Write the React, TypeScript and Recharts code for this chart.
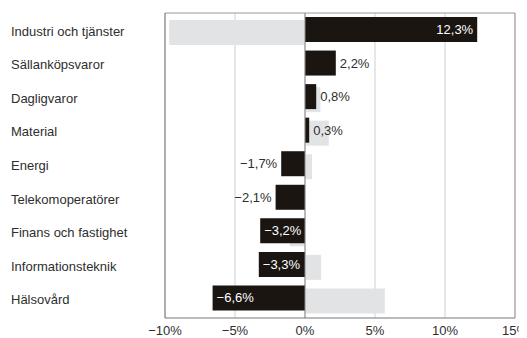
import React from 'react';
import { BarChart, Bar, XAxis, YAxis, CartesianGrid, ReferenceLine, LabelList } from 'recharts';

const categories = [
  'Industri och tjänster',
  'Sällanköpsvaror',
  'Dagligvaror',
  'Material',
  'Energi',
  'Telekomoperatörer',
  'Finans och fastighet',
  'Informationsteknik',
  'Hälsovård',
];

// black bars (labelled)
const sectorReturn = [12.3, 2.2, 0.8, 0.3, -1.7, -2.1, -3.2, -3.3, -6.6];
// light grey bars behind
const compareReturn = [-9.7, 0, 1.1, 1.7, 0.5, 0, -1.1, 1.15, 5.7];

const xTicks = [-10, -5, 0, 5, 10, 15];

const data = categories.map((name, i) => ({
  name,
  sector: sectorReturn[i],
  compare: compareReturn[i],
}));

const FONT = '"Liberation Sans", Arial, sans-serif';
const TEXT = '#2e2e2e';

const fmtPct = (v: number, decimals = 1) =>
  (v < 0 ? '\u2212' : '') + Math.abs(v).toFixed(decimals).replace('.', ',') + '%';

// inside the bar end when the bar is long enough, otherwise just outside it
function ValueLabel(props: any) {
  const { x, y, width, height, value } = props;
  const left = Math.min(x, x + width);
  const right = Math.max(x, x + width);
  const cy = y + height / 2;
  const inside = Math.abs(value) >= 3;
  let tx: number;
  let anchor: 'start' | 'end';
  if (value >= 0) {
    tx = inside ? right - 4 : right + 4;
    anchor = inside ? 'end' : 'start';
  } else {
    tx = inside ? left + 4 : left - 4;
    anchor = inside ? 'start' : 'end';
  }
  return (
    <text x={tx} y={cy} textAnchor={anchor} dominantBaseline="central" fill={inside ? '#ffffff' : TEXT} fontSize={13} fontFamily={FONT}>
      {fmtPct(value)}
    </text>
  );
}

function CategoryTick(props: any) {
  const { y, payload } = props;
  return (
    <text x={11} y={y + 1.5} textAnchor="start" dominantBaseline="central" fill={TEXT} fontSize={13} fontFamily={FONT}>
      {payload.value}
    </text>
  );
}

export default function App() {
  return (
    <div style={{ marginLeft: -8, marginTop: -8, width: 527, height: 338, background: '#fff' }}>
      <BarChart width={527} height={338} data={data} layout="vertical" margin={{ top: 13, right: 12, bottom: 0, left: 0 }}>
        <CartesianGrid yAxisId="b" horizontal={false} stroke="#cfcfcf" />
        <CartesianGrid yAxisId="b" vertical={false} stroke="#9a9a9a" horizontalCoordinatesGenerator={({ offset }: any) => [offset.top]} />
        <XAxis
          type="number"
          domain={[-10, 15]}
          ticks={xTicks}
          tickFormatter={(v: number) => fmtPct(v, 0)}
          tick={{ fontSize: 13, fill: TEXT, fontFamily: FONT }}
          tickLine={false}
          axisLine={{ stroke: '#777' }}
          height={20}
        />
        <YAxis
          yAxisId="b"
          type="category"
          dataKey="name"
          width={165}
          padding={{ top: 0, bottom: 3 }}
          tick={<CategoryTick />}
          tickLine={false}
          axisLine={false}
        />
        <YAxis yAxisId="a" type="category" dataKey="name" hide width={0} padding={{ top: 3, bottom: 0 }} />
        <Bar dataKey="compare" yAxisId="a" fill="#e2e3e5" barSize={25} isAnimationActive={false} />
        <Bar dataKey="sector" yAxisId="b" fill="#1a1511" barSize={25} isAnimationActive={false}>
          <LabelList dataKey="sector" content={<ValueLabel />} />
        </Bar>
        <ReferenceLine x={-10} yAxisId="b" stroke="#777" />
        <ReferenceLine x={0} yAxisId="b" stroke="#8a8a8a" />
        <ReferenceLine x={15} yAxisId="b" stroke="#999" />
      </BarChart>
    </div>
  );
}
